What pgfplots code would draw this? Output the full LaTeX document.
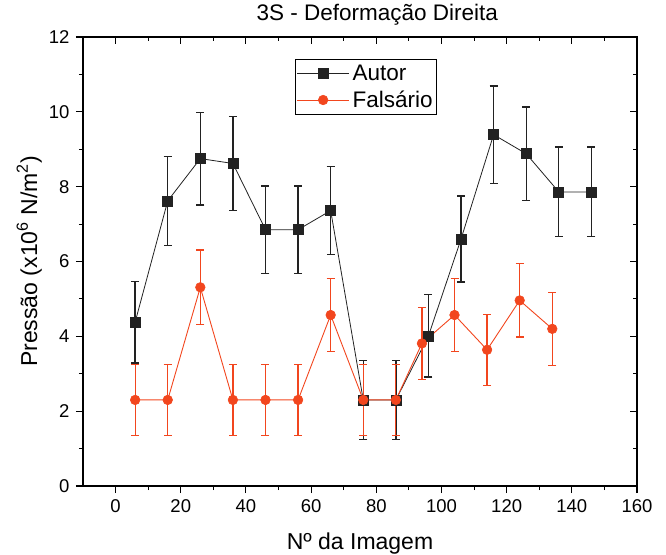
\documentclass[border=0pt]{standalone}
\usepackage{fontspec}
\setmainfont{Liberation Sans}
\usepackage{pgfplots}
\usepackage{pgfplotstable}
\pgfplotsset{compat=1.18}
\definecolor{autor}{RGB}{34,34,34}
\definecolor{fals}{RGB}{242,70,30}

\pgfplotstableread{
x y e
6 4.38 1.09
16 7.62 1.19
26 8.75 1.24
36 8.62 1.25
46 6.85 1.17
56 6.85 1.17
66 7.36 1.18
76 2.30 1.06
86 2.30 1.06
96 4.01 1.10
106 6.60 1.15
116 9.39 1.30
126 8.88 1.25
136 7.86 1.20
146 7.86 1.20
}\autortab

\pgfplotstableread{
x y e
6 2.30 0.95
16 2.30 0.95
26 5.31 1.00
36 2.30 0.95
46 2.30 0.95
56 2.30 0.95
66 4.57 0.97
76 2.30 0.95
86 2.30 0.95
94 3.81 0.96
104 4.57 0.97
114 3.64 0.95
124 4.96 0.98
134 4.20 0.97
}\falstab

\begin{document}
\begin{tikzpicture}
\path[use as bounding box] (-83pt,-68pt) rectangle (583pt,486pt);
\pgfplotsset{common/.style={
  scale only axis, width=554pt, height=449pt,
  xmin=-10, xmax=160, ymin=0, ymax=12,
  xtick={0,20,...,160}, ytick={0,2,...,12},
  minor x tick num=1, minor y tick num=1,
  major tick length=7pt, minor tick length=4pt,
  tick style={black, line width=1.1pt},
  axis line style={black, line width=1.3pt},
  /pgf/number format/assume math mode=true,
}}
\begin{axis}[common,
  tick align=outside,
  xtick pos=left, ytick pos=left,
  tick label style={font=\fontsize{18.5}{21}\selectfont},
  xticklabel style={yshift=-3pt},
  yticklabel style={xshift=-3pt},
  title={3S - Deformação Direita},
  title style={at={(axis description cs:0.531,1.0223)}, anchor=base, font=\fontsize{22.5}{26}\selectfont},
  xlabel={Nº da Imagem},
  xlabel style={at={(axis description cs:0.5,-0.1425)}, anchor=base, font=\fontsize{23}{27}\selectfont},
  ylabel={Pressão (x10\textsuperscript{6} N/m\textsuperscript{2})},
  ylabel style={at={(axis description cs:-0.083,0.5)}, anchor=base, rotate=0, font=\fontsize{23}{27}\selectfont},
  legend style={at={(axis description cs:0.383,0.951)}, anchor=north west,
    draw=black, line width=1pt, font=\fontsize{22.5}{25}\selectfont,
    inner xsep=1pt, inner ysep=1pt,
    nodes={inner ysep=4.5pt, inner xsep=3pt},
    cells={anchor=west}},
  legend image code/.code={\draw[mark repeat=2,mark phase=2] plot coordinates {(0pt,0pt) (26pt,0pt) (52pt,0pt)};},
]
\addplot[autor, line width=0.8pt, mark=square*, mark size=5pt,
  mark options={fill=autor, solid, line width=0.6pt},
  error bars/.cd, y dir=both, y explicit,
  error bar style={line width=1.3pt, autor},
  error mark options={rotate=90, mark size=4pt, line width=1.3pt, autor}]
  table[x=x, y=y, y error=e] {\autortab};
\addlegendentry{Autor}
\addplot[fals, line width=0.9pt, mark=*, mark size=4.8pt,
  mark options={fill=fals, solid, line width=0.6pt},
  error bars/.cd, y dir=both, y explicit,
  error bar style={line width=1.2pt, fals},
  error mark options={rotate=90, mark size=4pt, line width=1.2pt, fals}]
  table[x=x, y=y, y error=e] {\falstab};
\addlegendentry{Falsário}
\end{axis}
\begin{axis}[common,
  tick align=inside,
  xtick pos=right, ytick pos=right,
  xticklabels={}, yticklabels={},
]
\end{axis}
\end{tikzpicture}
\end{document}
